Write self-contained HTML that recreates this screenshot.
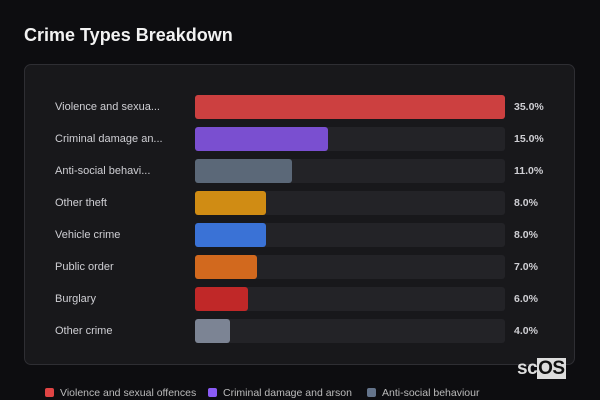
<!DOCTYPE html>
<html><head><meta charset="utf-8"><style>
body{margin:0;width:600px;height:400px;background:#0d0d10;font-family:"Liberation Sans",sans-serif;overflow:hidden;position:relative;color:#ddd}
.t{position:absolute;left:24px;top:25px;font-size:18px;font-weight:bold;color:#f2f2f2}
.card{position:absolute;left:24px;top:64px;width:551px;height:301px;border:1px solid #2e2e33;border-radius:7px;background:#18181b;box-sizing:border-box}
.lab{position:absolute;left:55px;font-size:11px;color:#cfcfd4}
.trk{position:absolute;left:195px;width:310px;height:24px;background:#232327;border-radius:3px}
.bar{position:absolute;left:195px;height:24px;border-radius:3px}
.val{position:absolute;left:514px;font-size:10.5px;font-weight:bold;color:#cfcfd4}
.leg{position:absolute;top:387px;font-size:10.5px;color:#bbb}
.leg i{display:inline-block;width:9px;height:9px;border-radius:2px;margin-right:6px;vertical-align:-1px}
.logo{position:absolute;left:517px;top:358px;font-size:19px;font-weight:bold;color:#ddd;letter-spacing:-0.5px}
.logo span{background:#ddd;color:#111;padding:0 1px}
</style></head><body>
<div class="t">Crime Types Breakdown</div>
<div class="card"></div>
<div id="rows"></div>
<div class="leg" style="left:45px"><i style="background:#e04444"></i>Violence and sexual offences</div>
<div class="leg" style="left:208px"><i style="background:#8b5cf6"></i>Criminal damage and arson</div>
<div class="leg" style="left:367px"><i style="background:#64748b"></i>Anti-social behaviour</div>
<div class="logo">sc<span>OS</span></div>
<script>
const categories=["Violence and sexua...","Criminal damage an...","Anti-social behavi...","Other theft","Vehicle crime","Public order","Burglary","Other crime"];
const values=[35,15,11,8,8,7,6,4];
const colors=["#cc4040","#7a4fd0","#5b6878","#d08c14","#3a72d6","#d2691e","#c02828","#7c8494"];
const maxV=35,W=310,top0=95,step=32;
const x=v=>v/maxV*W;
const root=document.getElementById('rows');
categories.forEach((c,i)=>{
 const y=top0+i*step;
 const l=document.createElement('div');l.className='lab';l.style.top=(y+6)+'px';l.textContent=c;
 
 
 const t=document.createElement('div');t.className='trk';t.style.top=y+'px';
 
 
 const b=document.createElement('div');b.className='bar';b.style.top=y+'px';b.style.width=x(values[i])+'px';b.style.background=colors[i];
 
 
 const v=document.createElement('div');v.className='val';v.style.top=(y+6)+'px';v.textContent=values[i].toFixed(1)+'%';
 
 
 root.append(l,t,b,v);
});
</script>
</body></html>
